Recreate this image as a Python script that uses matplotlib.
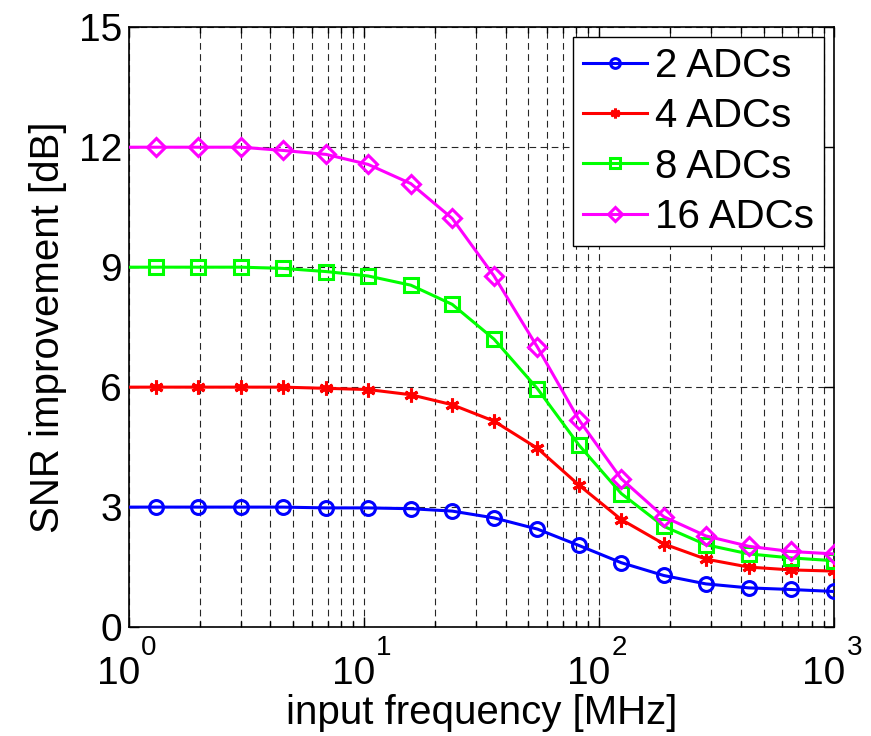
import numpy as np
import matplotlib
matplotlib.use("Agg")
import matplotlib.pyplot as plt
import matplotlib.transforms as mtransforms
from matplotlib.ticker import LogLocator, FixedLocator, NullFormatter

plt.rcParams["font.family"] = ["Liberation Sans", "DejaVu Sans"]

# input frequency [MHz]; first point (x=1) has no marker
freq = [1.0, 1.30, 1.96, 3.0, 4.5, 6.9, 10.4, 15.8, 23.7, 35.7, 54.6, 82.0,
        124, 188, 284, 432, 652, 993]

snr_2 = [3.0, 3.0, 3.0, 3.0, 3.0, 2.98, 2.98, 2.96, 2.9, 2.73, 2.45, 2.04,
         1.61, 1.29, 1.08, 0.98, 0.94, 0.89]
snr_4 = [6.0, 6.0, 6.0, 6.0, 6.0, 5.97, 5.94, 5.81, 5.56, 5.15, 4.47, 3.55,
         2.69, 2.08, 1.70, 1.50, 1.43, 1.40]
snr_8 = [9.0, 9.0, 9.0, 9.0, 8.97, 8.89, 8.78, 8.55, 8.07, 7.2, 5.96, 4.55,
         3.34, 2.52, 2.06, 1.83, 1.73, 1.66]
snr_16 = [12.0, 12.0, 12.0, 12.0, 11.92, 11.82, 11.57, 11.09, 10.22, 8.78,
          7.0, 5.18, 3.71, 2.76, 2.28, 2.02, 1.89, 1.83]

labels = ["2 ADCs", "4 ADCs", "8 ADCs", "16 ADCs"]
series = [snr_2, snr_4, snr_8, snr_16]
colors = ["#0000ff", "#ff0000", "#00ff00", "#ff00ff"]
markers = ["o", (6, 2, 0), "s", "D"]
msizes = [10, 10, 10, 9]

decades = [1, 10, 100, 1000]
exponents = ["0", "1", "2", "3"]

fig = plt.figure(figsize=(8.71, 7.36), dpi=100)
ax = fig.add_axes([0.148, 0.148, 0.81, 0.815])

for y, lab, c, m, ms in zip(series, labels, colors, markers, msizes):
    ax.plot(freq, y, color=c, lw=2.2, marker=m, ms=ms, mfc="none" if m != markers[1] else c,
            mec=c, mew=2.2, markevery=list(range(1, len(freq))), label=lab, zorder=3)

ax.set_xscale("log")
ax.set_xlim(1, 1000)
ax.set_ylim(0, 15)
ax.yaxis.set_major_locator(FixedLocator([0, 3, 6, 9, 12, 15]))
ax.xaxis.set_major_locator(FixedLocator(decades))
ax.xaxis.set_major_formatter(NullFormatter())
ax.xaxis.set_minor_locator(LogLocator(base=10, subs=np.arange(2, 10), numticks=20))
ax.xaxis.set_minor_formatter(NullFormatter())

ax.grid(True, which="major", axis="both", color="0.15", ls=(0, (6, 4)), lw=0.8)
ax.grid(True, which="minor", axis="x", color="0.15", ls=(0, (6, 4)), lw=0.8)

ax.tick_params(which="both", direction="in", top=True, right=True, labelsize=28, width=1)
ax.tick_params(axis="y", which="major", length=7, pad=5)
ax.tick_params(axis="x", which="major", length=7)
ax.tick_params(which="minor", length=4)
for s in ax.spines.values():
    s.set_linewidth(1.2)

# x tick labels drawn as 10 with a raised exponent, MATLAB style
blend = mtransforms.blended_transform_factory(ax.transData, ax.transAxes)
for d, e in zip(decades, exponents):
    tb = mtransforms.offset_copy(blend, fig=fig, x=11, y=-57, units="dots")
    ax.text(d, 0, "10", transform=tb, ha="right", va="baseline", fontsize=28,
            clip_on=False)
    ts = mtransforms.offset_copy(blend, fig=fig, x=12, y=-28, units="dots")
    ax.text(d, 0, e, transform=ts, ha="left", va="baseline", fontsize=20,
            clip_on=False)

xl = mtransforms.offset_copy(ax.transAxes, fig=fig, x=0, y=-97, units="dots")
ax.text(0.5, 0, "input frequency [MHz]", transform=xl, ha="center", va="baseline",
        fontsize=29, clip_on=False)
ax.set_ylabel("SNR improvement [dB]", fontsize=29, labelpad=8)

leg = ax.legend(loc="upper right", fontsize=29, fancybox=False, framealpha=1,
                edgecolor="black", handlelength=1.6, handletextpad=0.2,
                labelspacing=0.3, borderpad=0.25, borderaxespad=0.25)
leg.get_frame().set_linewidth(1.0)
for h in leg.legend_handles:
    h.set_markersize(7)

fig.savefig("out.png", dpi=100)
